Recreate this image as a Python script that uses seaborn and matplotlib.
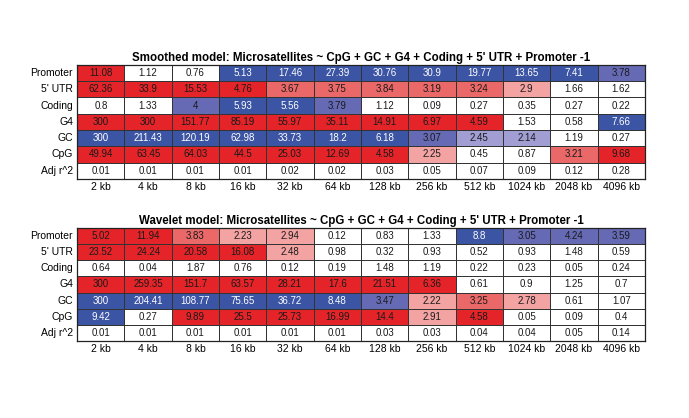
import numpy as np
import matplotlib
matplotlib.use('Agg')
import matplotlib.pyplot as plt
from matplotlib.colors import ListedColormap, BoundaryNorm
import seaborn as sns

rows = ['Promoter', "5' UTR", 'Coding', 'G4', 'GC', 'CpG', 'Adj r^2']
scales = ['2 kb', '4 kb', '8 kb', '16 kb', '32 kb', '64 kb', '128 kb',
          '256 kb', '512 kb', '1024 kb', '2048 kb', '4096 kb']

# smoothed model: -log10 p (and adj r^2 on the last row)
smooth_promoter = [11.08, 1.12, 0.76, 5.13, 17.46, 27.39, 30.76, 30.9, 19.77, 13.65, 7.41, 3.78]
smooth_utr5 = [62.36, 33.9, 15.53, 4.76, 3.67, 3.75, 3.84, 3.19, 3.24, 2.9, 1.66, 1.62]
smooth_coding = [0.8, 1.33, 4, 5.93, 5.56, 3.79, 1.12, 0.09, 0.27, 0.35, 0.27, 0.22]
smooth_g4 = [300, 300, 151.77, 85.19, 55.97, 35.11, 14.91, 6.97, 4.59, 1.53, 0.58, 7.66]
smooth_gc = [300, 211.43, 120.19, 62.98, 33.73, 18.2, 6.18, 3.07, 2.45, 2.14, 1.19, 0.27]
smooth_cpg = [49.94, 63.45, 64.03, 44.5, 25.03, 12.69, 4.58, 2.25, 0.45, 0.87, 3.21, 9.68]
smooth_r2 = [0.01, 0.01, 0.01, 0.01, 0.02, 0.02, 0.03, 0.05, 0.07, 0.09, 0.12, 0.28]
# direction of effect: 1 = positive (red), -1 = negative (blue)
smooth_sign = [
    [1, 1, 1, -1, -1, -1, -1, -1, -1, -1, -1, -1],
    [1, 1, 1, 1, 1, 1, 1, 1, 1, 1, 1, 1],
    [1, 1, -1, -1, -1, -1, 1, 1, 1, 1, 1, 1],
    [1, 1, 1, 1, 1, 1, 1, 1, 1, 1, 1, -1],
    [-1, -1, -1, -1, -1, -1, -1, -1, -1, -1, -1, -1],
    [1, 1, 1, 1, 1, 1, 1, 1, 1, 1, 1, 1],
]

# wavelet model
wave_promoter = [5.02, 11.94, 3.83, 2.23, 2.94, 0.12, 0.83, 1.33, 8.8, 3.05, 4.24, 3.59]
wave_utr5 = [23.52, 24.24, 20.58, 16.08, 2.48, 0.98, 0.32, 0.93, 0.52, 0.93, 1.48, 0.59]
wave_coding = [0.64, 0.04, 1.87, 0.76, 0.12, 0.19, 1.48, 1.19, 0.22, 0.23, 0.05, 0.24]
wave_g4 = [300, 259.35, 151.7, 63.57, 28.21, 17.6, 21.51, 6.36, 0.61, 0.9, 1.25, 0.7]
wave_gc = [300, 204.41, 108.77, 75.65, 36.72, 8.48, 3.47, 2.22, 3.25, 2.78, 0.61, 1.07]
wave_cpg = [9.42, 0.27, 9.89, 25.5, 25.73, 16.99, 14.4, 2.91, 4.58, 0.05, 0.09, 0.4]
wave_r2 = [0.01, 0.01, 0.01, 0.01, 0.01, 0.01, 0.03, 0.03, 0.04, 0.04, 0.05, 0.14]
wave_sign = [
    [1, 1, 1, 1, 1, 1, 1, 1, -1, -1, -1, -1],
    [1, 1, 1, 1, 1, 1, 1, 1, 1, 1, 1, 1],
    [1, 1, 1, 1, 1, 1, 1, 1, 1, 1, 1, 1],
    [1, 1, 1, 1, 1, 1, 1, 1, 1, 1, 1, 1],
    [-1, -1, -1, -1, -1, -1, -1, 1, 1, 1, 1, 1],
    [-1, 1, 1, 1, 1, 1, 1, 1, 1, 1, 1, 1],
]

titles = ['Smoothed model: Microsatellites ~ CpG + GC + G4 + Coding + 5\' UTR + Promoter -1',
          'Wavelet model: Microsatellites ~ CpG + GC + G4 + Coding + 5\' UTR + Promoter -1']

colors = ['#3B54A4', '#666AB5', '#A09ED3', '#FFFFFF', '#F4A3A3', '#EB6868', '#E52429']
bounds = [-1e4, -4.5, -3, -2, 2, 3, 4.5, 1e4]
cmap = ListedColormap(colors)
norm = BoundaryNorm(bounds, cmap.N)


def draw_table(ax, vals, sign, r2, title):
    vals = np.array(vals, dtype=float)
    signed = np.where(vals >= 2, vals * np.array(sign), 0.0)
    color_data = np.vstack([signed, np.zeros(len(r2))])
    labels = np.vstack([vals, r2])
    annot = np.vectorize(lambda v: f'{v:g}')(labels)
    sns.heatmap(color_data, ax=ax, cmap=cmap, norm=norm, cbar=False,
                annot=annot, fmt='', linewidths=0.6, linecolor='#333333',
                annot_kws={'fontsize': 7},
                xticklabels=scales, yticklabels=rows)
    # text colour: white on the strongest blue
    for t, v in zip(ax.texts, color_data.flatten()):
        t.set_color('white' if v <= -4.5 else '#1a1a1a')
    for s in ax.spines.values():
        s.set_visible(True)
        s.set_linewidth(0.9)
        s.set_color('#222222')
    ax.tick_params(length=0, labelsize=7.5, pad=3)
    ax.tick_params(axis='x', pad=2)
    plt.setp(ax.get_yticklabels(), rotation=0)
    plt.setp(ax.get_xticklabels(), rotation=0)
    ax.set_title(title, fontsize=8.3, fontweight='bold', pad=3)


plt.rcParams['font.family'] = ['Liberation Sans', 'DejaVu Sans']
fig = plt.figure(figsize=(6.89, 4.18), dpi=100)
ax1 = fig.add_axes([0.112, 0.572, 0.824, 0.273])
ax2 = fig.add_axes([0.112, 0.184, 0.824, 0.271])

draw_table(ax1, [smooth_promoter, smooth_utr5, smooth_coding, smooth_g4, smooth_gc, smooth_cpg],
           smooth_sign, smooth_r2, titles[0])
draw_table(ax2, [wave_promoter, wave_utr5, wave_coding, wave_g4, wave_gc, wave_cpg],
           wave_sign, wave_r2, titles[1])

fig.savefig('out.png', dpi=100, facecolor='white')
